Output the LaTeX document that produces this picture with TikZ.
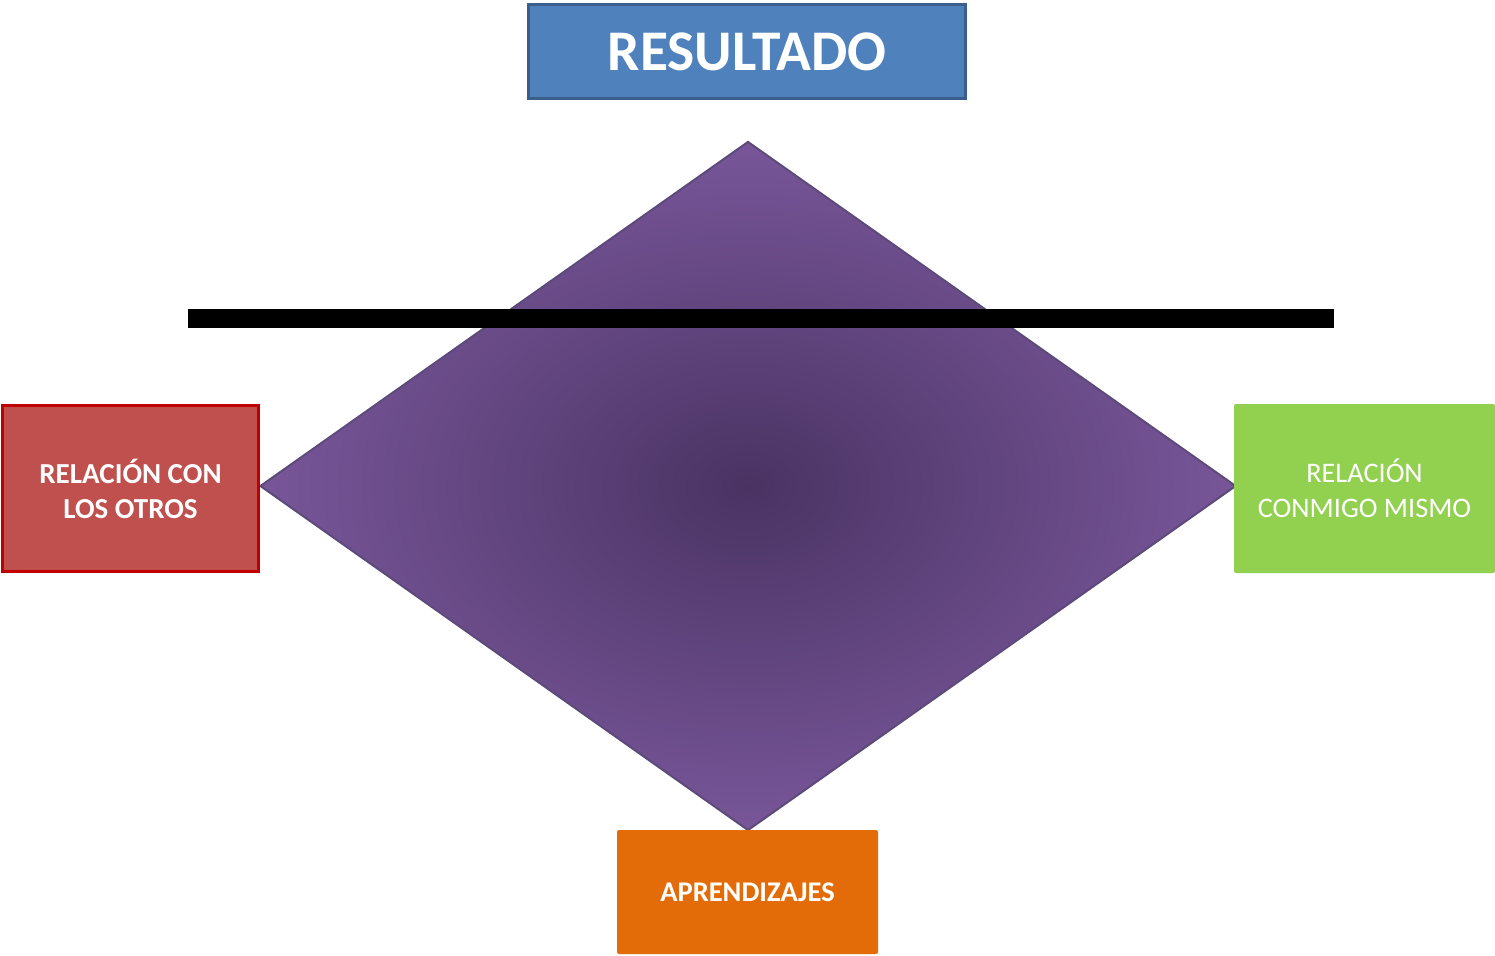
\documentclass[tikz,border=0pt]{standalone}
\usepackage{fontspec}
\setmainfont{Carlito}
\usetikzlibrary{shapes.geometric}
\definecolor{dctr}{HTML}{4A3363}
\definecolor{dedge}{HTML}{785699}
\definecolor{dline}{HTML}{5C4A7A}
\definecolor{bfill}{HTML}{4F81BD}
\definecolor{bline}{HTML}{3A5F8C}
\definecolor{rfill}{HTML}{C0504D}
\definecolor{rline}{HTML}{C00000}
\definecolor{gfill}{HTML}{92D050}
\definecolor{ofill}{HTML}{E36C09}
\pgfdeclareradialshading{diam}{\pgfpoint{0bp}{0bp}}{color(0bp)=(dctr); color(25bp)=(dedge); color(50bp)=(dedge)}
\begin{document}
\begin{tikzpicture}[x=1pt,y=-1pt,
  box/.style={rectangle, inner sep=0pt, text=white, align=center, font=\fontsize{28}{35}\selectfont},
]
\useasboundingbox (0,0) rectangle (1495,955);
\node[diamond, draw=dline, line width=2pt, shading=diam, inner sep=0pt,
  minimum width=976pt, minimum height=689pt, aspect=1.4165] (dia) at (748,486) {};
\draw[line width=19pt] (188,318) coordinate (la) -- (1334,318) coordinate (lb);
\node[box, draw=bline, fill=bfill, line width=3pt, minimum width=437pt, minimum height=94pt,
  font=\fontsize{57.5}{60}\selectfont\bfseries] (res) at (747,51.5) {RESULTADO};
\node[box, draw=rline, fill=rfill, line width=3pt, minimum width=256pt, minimum height=166pt,
  font=\fontsize{29}{35}\selectfont\bfseries] (rel) at (130.5,488.5) {RELACIÓN CON\\LOS OTROS};
\node[box, fill=gfill, rounded corners=2pt, minimum width=261pt, minimum height=169pt,
  font=\fontsize{28.3}{35}\selectfont] (con) at (1364.5,488.5) {RELACIÓN\\CONMIGO MISMO};
\node[box, fill=ofill, rounded corners=2pt, minimum width=261pt, minimum height=124pt,
  font=\fontsize{28.5}{32}\selectfont\bfseries] (apr) at (747.5,892) {APRENDIZAJES};
\end{tikzpicture}
\end{document}
